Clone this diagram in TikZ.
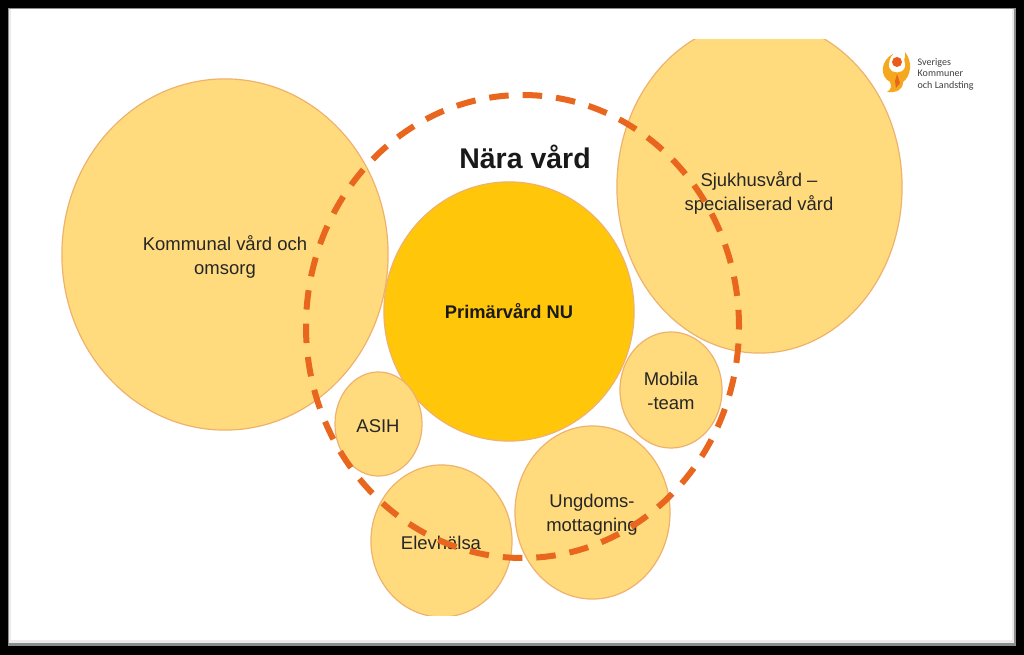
\documentclass[tikz,border=0pt]{standalone}
\usepackage{fontspec}
\setmainfont{Liberation Sans}
\newfontfamily\logofont{Carlito}
\usetikzlibrary{shapes.geometric}
\definecolor{bubble}{HTML}{FFDB7E}
\definecolor{bubbleline}{HTML}{EFB26C}
\definecolor{core}{HTML}{FFC60A}
\definecolor{ring}{HTML}{E8661E}
\definecolor{petal}{HTML}{F5A81E}
\tikzset{
	bubblenode/.style={ellipse, draw=bubbleline, fill=bubble, line width=0.12mm, inner sep=0pt, align=center, text=black!85, font=\fontsize{5.25}{6.75}\selectfont},
	corenode/.style={bubblenode, fill=core, text=black!90, font=\fontsize{5.2}{6}\selectfont\bfseries},
	labelnode/.style={bubblenode, draw=none, fill=none},
	logotext/.style={anchor=west, inner sep=0pt, align=left, text=black!75, font=\logofont\fontsize{2.85}{3.25}\selectfont}
}
\begin{document}
\begin{tikzpicture}[x=0.01cm, y=-0.01cm]
	\useasboundingbox (0, 0) rectangle (1024, 655);
	\fill[black] (0, 0) rectangle (1024, 655);
	\fill[black!45] (8, 8) rectangle (1016, 646);
	\fill[black!8] (9, 9) rectangle (1014, 643);
	\fill[white] (11, 9) rectangle (1012, 640);

	% bubbles
	\node[bubblenode, minimum width=3.26cm, minimum height=3.51cm] (kommunal) at (225, 254.5) {};
	\begin{scope}
	\clip (600, 40) rectangle (920, 360);
	\node[bubblenode, minimum width=2.85cm, minimum height=3.32cm] (sjukhus) at (759.5, 187) {};
	\end{scope}
	\node[corenode, minimum width=2.5cm, minimum height=2.59cm] (primar) at (509, 311.5) {Primärvård NU};
	\node[bubblenode, minimum width=1.02cm, minimum height=1.16cm] (mobila) at (671, 390) {};
	\node[bubblenode, minimum width=0.87cm, minimum height=1.04cm] (asih) at (378.5, 424) {};
	\begin{scope}
	\clip (360, 460) rectangle (520, 615);
	\node[bubblenode, minimum width=1.41cm, minimum height=1.52cm] (elev) at (441.5, 541) {};
	\end{scope}
	\node[bubblenode, minimum width=1.55cm, minimum height=1.73cm] (ungdom) at (592.5, 512.5) {};

	% labels sit off centre, so they are placed by hand
	\node[labelnode] (kommunaltext) at (225, 257) {Kommunal vård och\\omsorg};
	\node[labelnode] (sjukhustext) at (759, 193) {Sjukhusvård –\\specialiserad vård};
	\node[labelnode] (mobilatext) at (671, 391) {Mobila\\-team};
	\node[labelnode] (asihtext) at (378, 426) {ASIH};
	\node[labelnode] (elevtext) at (441, 543) {Elevhälsa};
	\node[labelnode] (ungdomtext) at (592, 515) {Ungdoms-\\mottagning};
	\node[inner sep=0pt, font=\fontsize{8.1}{9}\selectfont\bfseries, text=black!90] (title) at (525, 157) {Nära vård};

	\coordinate (ringcentre) at (522.5, 326.5);
	\draw[ring, line width=0.6mm, dash pattern=on 0.195cm off 0.14cm, dash phase=0.165cm] (ringcentre) ellipse [x radius=216.5, y radius=231.5];

	% logo
	\fill[petal] (893, 54) .. controls (881, 60) and (879, 76) .. (890, 82) .. controls (892, 86) and (891, 90) .. (887, 92) .. controls (896, 93) and (903, 90) .. (903, 82) .. controls (911, 76) and (913, 62) .. (905, 52) .. controls (906, 58) and (904, 62) .. (900, 63) -- (894, 63) .. controls (892, 60) and (892, 57) .. (893, 54) -- cycle;
	\fill[white] (897, 65) ellipse [x radius=8, y radius=12];
	\fill[petal] (889, 68) .. controls (892, 74) and (902, 74) .. (905, 68) .. controls (905, 76) and (900, 80) .. (897, 82) .. controls (893, 80) and (889, 76) .. (889, 68) -- cycle;
	\fill[ring!90!red] (897, 62) circle (5);
	\fill[ring] (897, 74) -- (900, 83) -- (896, 88) -- (895, 81) -- cycle;
	\node[logotext] (logoname) at (917, 74) {Sveriges\\Kommuner\\och Landsting};
\end{tikzpicture}
\end{document}
